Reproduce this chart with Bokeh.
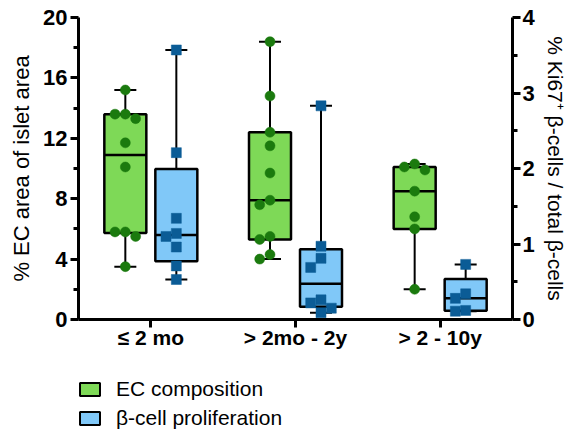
import numpy as np
from bokeh.plotting import figure
from bokeh.layouts import column
from bokeh.models import (Range1d, LinearAxis, FixedTicker, Legend, LegendItem,
                          ColumnDataSource)
from bokeh.embed import file_html
from bokeh.resources import INLINE

# ---------------- data ----------------
groups = ["≤ 2 mo", "> 2mo - 2y", "> 2 - 10y"]
series_names = ["EC composition", "β-cell proliferation"]

# % EC area of islet area (left axis)
ec_2mo = [15.2, 13.6, 13.6, 13.3, 11.7, 10.1, 5.8, 5.8, 5.5, 3.5]
ec_2y = [18.4, 14.8, 12.4, 11.5, 9.7, 7.9, 7.6, 5.5, 5.3, 4.3, 4.0]
ec_10y = [10.3, 10.1, 9.9, 8.5, 6.8, 6.0, 2.0]

# % Ki67+ beta-cells / total beta-cells (right axis)
ki_2mo = [3.57, 2.21, 1.34, 1.14, 1.10, 0.96, 0.71, 0.53]
ki_2y = [2.83, 0.97, 0.81, 0.69, 0.26, 0.22, 0.15, 0.09]
ki_10y = [0.73, 0.34, 0.28, 0.12, 0.11]

ec_data = [ec_2mo, ec_2y, ec_10y]
ki_data = [ki_2mo, ki_2y, ki_10y]

left_ticks = [0, 4, 8, 12, 16, 20]
right_ticks = [0, 1, 2, 3, 4]

# ---------------- styling ----------------
FONT = "Liberation Sans"
GREEN_FILL = "#7ED957"
GREEN_DOT = "#1B7A0E"
BLUE_FILL = "#80C8F8"
BLUE_SQ = "#0B5C96"

W, H = 569, 431
LEG_H = 66
MAIN_H = H - LEG_H
LEFT, RIGHT, TOP = 78, 57, 17
BOTTOM = MAIN_H - 319
frame_w = W - LEFT - RIGHT
frame_h = MAIN_H - TOP - BOTTOM

x_lo, x_hi = 0.5, 3.5
px_per_x = frame_w / (x_hi - x_lo)
box_off = 25.5 / px_per_x
box_w = 42.0 / px_per_x
cap_w = 22.0 / px_per_x
pt_d = 10.0


def beeswarm(values, px_per_y):
    """Deterministic horizontal spreading of points that would overlap."""
    step = 10.3 / px_per_x
    placed = []
    offs = []
    for v in values:
        k = 0
        cands = [0]
        for i in range(1, 8):
            cands += [-i, i]
        for c in cands:
            ok = True
            for (pv, pc) in placed:
                dx = (c - pc) * 10.3
                dy = (v - pv) * px_per_y
                if dx * dx + dy * dy < (pt_d * 0.98) ** 2:
                    ok = False
                    break
            if ok:
                k = c
                break
        placed.append((v, k))
        offs.append(k * step)
    return offs


def build(data, offset, px_per_y):
    boxes = dict(x=[], q1=[], q3=[], med=[], lo=[], hi=[], x0=[], x1=[], c0=[], c1=[])
    pts = dict(x=[], y=[])
    for i, vals in enumerate(data):
        xc = i + 1 + offset
        q1, med, q3 = np.percentile(vals, [25, 50, 75], method="weibull")
        boxes["x"].append(xc)
        boxes["q1"].append(q1)
        boxes["q3"].append(q3)
        boxes["med"].append(med)
        boxes["lo"].append(min(vals))
        boxes["hi"].append(max(vals))
        boxes["x0"].append(xc - box_w / 2)
        boxes["x1"].append(xc + box_w / 2)
        boxes["c0"].append(xc - cap_w / 2)
        boxes["c1"].append(xc + cap_w / 2)
        for v, o in zip(vals, beeswarm(vals, px_per_y)):
            pts["x"].append(xc + o)
            pts["y"].append(v)
    return ColumnDataSource(boxes), ColumnDataSource(pts)


p = figure(width=W, height=MAIN_H, output_backend="svg", toolbar_location=None,
           x_range=Range1d(x_lo, x_hi), y_range=Range1d(0, 20),
           min_border_left=LEFT, min_border_right=RIGHT,
           min_border_top=TOP, min_border_bottom=BOTTOM)
p.extra_y_ranges = {"ki": Range1d(0, 4)}
p.grid.visible = False
p.outline_line_color = None
p.background_fill_color = "white"
p.border_fill_color = "white"

ppy_left = frame_h / 20.0
ppy_right = frame_h / 4.0

ec_box, ec_pts = build(ec_data, -box_off, ppy_left)
ki_box, ki_pts = build(ki_data, box_off, ppy_right)

for (bsrc, psrc, fill, dot, marker, rng) in [
        (ec_box, ec_pts, GREEN_FILL, GREEN_DOT, "circle", "default"),
        (ki_box, ki_pts, BLUE_FILL, BLUE_SQ, "square", "ki")]:
    p.segment(x0="x", y0="lo", x1="x", y1="hi", source=bsrc, line_color="black",
              line_width=2, y_range_name=rng)
    p.segment(x0="c0", y0="lo", x1="c1", y1="lo", source=bsrc, line_color="black",
              line_width=2, y_range_name=rng)
    p.segment(x0="c0", y0="hi", x1="c1", y1="hi", source=bsrc, line_color="black",
              line_width=2, y_range_name=rng)
    p.vbar(x="x", width=box_w, bottom="q1", top="q3", source=bsrc,
           fill_color=fill, line_color="black", line_width=2.5, y_range_name=rng)
    p.segment(x0="x0", y0="med", x1="x1", y1="med", source=bsrc, line_color="black",
              line_width=2.5, y_range_name=rng)
    p.scatter(x="x", y="y", source=psrc, marker=marker, size=pt_d, fill_color=dot,
              line_color=dot, line_width=0.5, y_range_name=rng)

# ---------------- axes ----------------
def style_axis(ax):
    ax.axis_line_width = 3
    ax.axis_line_color = "black"
    ax.major_tick_line_width = 3
    ax.minor_tick_line_width = 3
    ax.major_tick_in = 0
    ax.minor_tick_in = 0
    ax.major_label_text_font = FONT
    ax.major_label_text_font_style = "bold"
    ax.major_label_text_font_size = "22px"
    ax.major_label_text_color = "black"
    ax.axis_label_text_font = FONT
    ax.axis_label_text_font_style = "normal"
    ax.axis_label_text_font_size = "22px"
    ax.axis_label_text_color = "black"


xa = p.xaxis[0]
style_axis(xa)
xa.ticker = FixedTicker(ticks=[1, 2, 3])
xa.major_label_overrides = {i + 1: g for i, g in enumerate(groups)}
xa.major_tick_out = 8
xa.minor_tick_out = 0
xa.major_label_standoff = -2
xa.major_label_text_font_size = "21px"

ya = p.yaxis[0]
style_axis(ya)
ya.ticker = FixedTicker(ticks=left_ticks,
                        minor_ticks=[t + 2 for t in left_ticks[:-1]])
ya.major_tick_out = 8
ya.minor_tick_out = 5
ya.major_label_standoff = 3
ya.axis_label = "% EC area of islet area"
ya.axis_label_standoff = 6

ra = LinearAxis(y_range_name="ki")
style_axis(ra)
ra.ticker = FixedTicker(ticks=right_ticks,
                        minor_ticks=[t + 0.5 for t in right_ticks[:-1]])
ra.major_tick_out = 8
ra.minor_tick_out = 5
ra.major_label_standoff = 2
ra.axis_label = "% Ki67⁺ β-cells / total β-cells"
ra.axis_label_standoff = 6
ra.axis_label_text_font_size = "21px"
p.add_layout(ra, "right")

# ---------------- legend (separate strip below the chart) ----------------
lg = figure(width=W, height=LEG_H, output_backend="svg", toolbar_location=None,
            x_range=Range1d(0, 1), y_range=Range1d(0, 1),
            x_axis_type=None, y_axis_type=None,
            min_border_left=0, min_border_right=0, min_border_top=0, min_border_bottom=0)
lg.grid.visible = False
lg.outline_line_color = None
lg.background_fill_color = "white"
lg.border_fill_color = "white"
# swatch renderers: a single NaN bar, so nothing is drawn in the strip itself
nan = float("nan")
r_ec = lg.vbar(x=[nan], bottom=[nan], top=[nan], width=0.1, fill_color=GREEN_FILL,
               line_color="black", line_width=2)
r_ki = lg.vbar(x=[nan], bottom=[nan], top=[nan], width=0.1, fill_color=BLUE_FILL,
               line_color="black", line_width=2)

legend = Legend(items=[LegendItem(label=series_names[0], renderers=[r_ec]),
                       LegendItem(label=series_names[1], renderers=[r_ki])],
                location=(-1, 1), orientation="vertical")
legend.glyph_width = 25
legend.glyph_height = 16
legend.label_text_font = FONT
legend.label_text_font_size = "21px"
legend.label_text_color = "black"
legend.label_standoff = 14
legend.label_height = 20
legend.spacing = 5
legend.padding = 0
legend.margin = 0
legend.border_line_color = None
legend.background_fill_alpha = 0
lg.add_layout(legend, "center")

layout = column(p, lg, spacing=0)
open("out.html", "w").write(file_html(layout, INLINE))
